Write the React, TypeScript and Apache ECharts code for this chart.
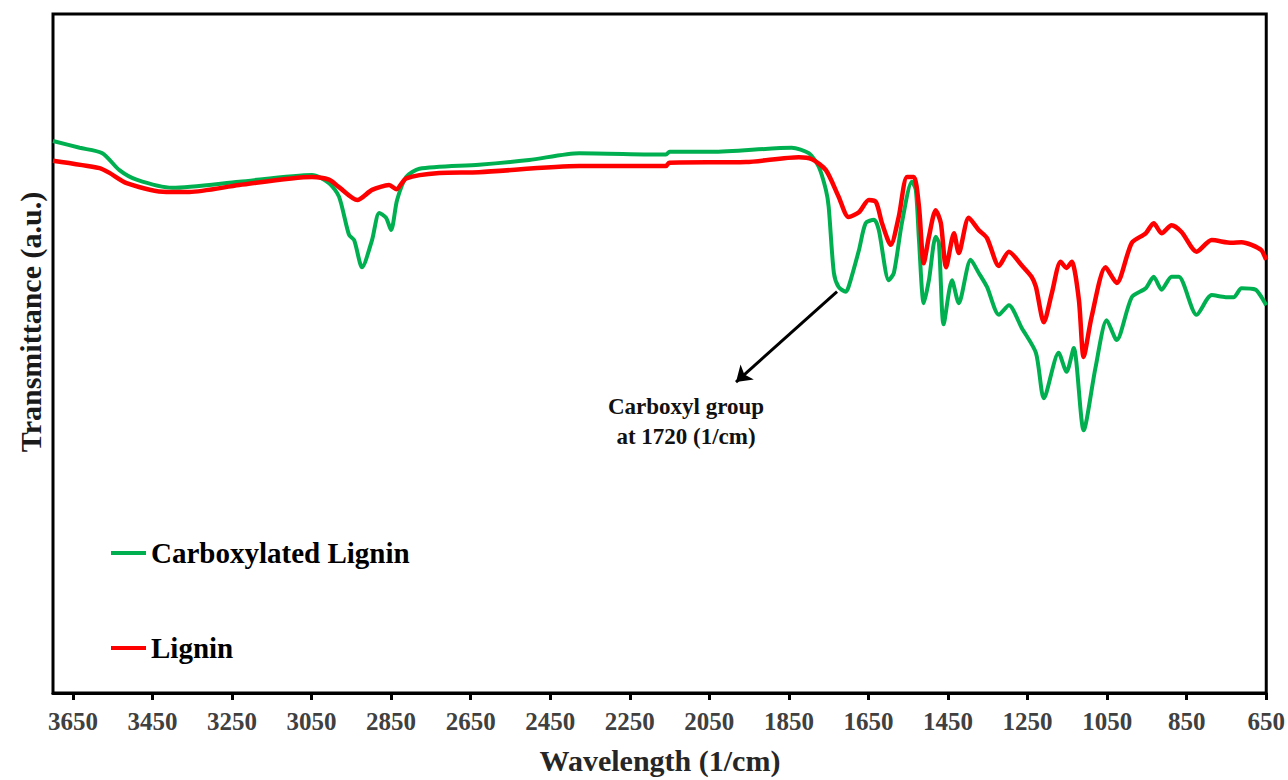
import React, { useEffect, useRef } from 'react';
import * as echarts from 'echarts';

const FONT = "'Liberation Serif', 'Times New Roman', Times, serif";

// x tick labels (wavenumber, 1/cm)
const tickValues = [650, 850, 1050, 1250, 1450, 1650, 1850, 2050, 2250, 2450, 2650, 2850, 3050, 3250, 3450, 3650];

// Carboxylated Lignin (green)
const carboxWave = [3700, 3633, 3576, 3533, 3490, 3400, 3232, 3049, 3006, 2981, 2956, 2943, 2923, 2898, 2880, 2863, 2850, 2835, 2812, 2779, 2629, 2503, 2377, 2159, 2150, 2043, 1843, 1800, 1775, 1757, 1750, 1737, 1725, 1707, 1700, 1674, 1657, 1636, 1624, 1599, 1586, 1566, 1541, 1531, 1523, 1511, 1498, 1481, 1473, 1461, 1440, 1423, 1393, 1373, 1352, 1322, 1297, 1265, 1229, 1209, 1172, 1152, 1134, 1109, 1079, 1051, 1026, 988, 953, 933, 913, 888, 870, 825, 787, 752, 732, 712, 677, 662, 650];
const carboxT = [81.3, 80.3, 79.5, 77.0, 75.6, 74.4, 75.3, 76.3, 75.1, 73.1, 67.5, 66.7, 62.7, 66.7, 70.7, 70.0, 68.2, 72.6, 76.0, 77.2, 77.8, 78.5, 79.5, 79.3, 79.7, 79.7, 80.3, 79.5, 77.5, 74.1, 71.6, 61.9, 59.8, 59.1, 59.8, 65.2, 69.2, 69.7, 68.2, 60.8, 61.9, 69.2, 75.3, 74.1, 66.7, 57.4, 60.8, 67.2, 66.3, 54.3, 60.8, 57.4, 63.8, 61.9, 59.8, 55.7, 57.1, 53.8, 50.1, 43.4, 50.1, 47.3, 50.8, 38.7, 48.0, 54.9, 52.0, 58.3, 59.6, 61.3, 59.4, 61.3, 61.3, 55.7, 58.6, 58.3, 58.3, 59.6, 59.4, 58.3, 57.1];

// Lignin (red)
const ligninWave = [3700, 3583, 3558, 3515, 3415, 3357, 3232, 3049, 3006, 2981, 2935, 2898, 2855, 2837, 2812, 2729, 2629, 2377, 2159, 2151, 1958, 1825, 1792, 1757, 1725, 1700, 1674, 1649, 1631, 1616, 1594, 1574, 1553, 1536, 1523, 1511, 1498, 1481, 1468, 1455, 1435, 1423, 1398, 1373, 1352, 1322, 1297, 1265, 1240, 1229, 1209, 1189, 1167, 1152, 1139, 1121, 1109, 1089, 1054, 1026, 988, 953, 933, 913, 888, 863, 825, 787, 737, 712, 687, 662, 650];
const ligninT = [78.4, 77.3, 76.6, 75.1, 73.8, 73.8, 74.8, 76.0, 75.6, 74.5, 72.6, 74.1, 74.8, 74.2, 75.8, 76.6, 76.7, 77.6, 77.6, 78.1, 78.2, 78.9, 78.6, 77.0, 73.1, 70.1, 70.8, 72.6, 72.3, 69.2, 66.0, 70.1, 76.0, 76.0, 71.6, 63.3, 67.2, 71.1, 69.2, 62.7, 67.7, 64.8, 70.0, 68.2, 67.0, 62.9, 65.0, 63.0, 61.3, 59.8, 54.6, 58.9, 63.5, 62.6, 63.5, 57.9, 49.5, 55.4, 62.7, 60.4, 66.3, 67.7, 69.2, 67.7, 68.9, 67.9, 65.0, 66.7, 66.3, 66.4, 66.0, 65.2, 63.8];

// annotation arrow (data space): from the 1720 band towards the label
const arrowFrom = [1729, 59.1];
const arrowTo = [1983, 45.8];

const seriesNames = ['Carboxylated Lignin', 'Lignin'];
const seriesColors = ['#00B050', '#FF0000'];

function zip(xs: number[], ys: number[]) {
  return xs.map((x, i) => [x, ys[i]]);
}

export default function App() {
  const ref = useRef<HTMLDivElement>(null);
  useEffect(() => {
    if (!ref.current) return;
    const chart = echarts.init(ref.current, null, { renderer: 'svg' });
    chart.setOption({
      animation: false,
      backgroundColor: '#ffffff',
      grid: {
        left: 53,
        right: 20,
        top: 14,
        bottom: 87,
        show: true,
        borderColor: '#000',
        borderWidth: 3,
        backgroundColor: 'transparent',
      },
      xAxis: {
        type: 'value',
        min: 650,
        max: 3700,
        inverse: true,
        axisLine: { show: true, onZero: false, lineStyle: { color: '#000', width: 3 } },
        axisTick: { show: true, customValues: tickValues, length: 7, lineStyle: { color: '#000', width: 3 } },
        axisLabel: {
          customValues: tickValues,
          formatter: (v: number) => String(v),
          fontFamily: FONT,
          fontWeight: 'bold',
          fontSize: 25,
          color: '#404040',
          margin: 16,
        },
        splitLine: { show: false },
      },
      yAxis: {
        type: 'value',
        min: 0,
        max: 100,
        axisLine: { show: false },
        axisTick: { show: false },
        axisLabel: { show: false },
        splitLine: { show: false },
      },
      legend: {
        orient: 'vertical',
        left: 111,
        top: 538,
        padding: 0,
        itemWidth: 35,
        itemHeight: 4,
        itemGap: 65,
        icon: 'rect',
        data: seriesNames,
        textStyle: { fontFamily: FONT, fontWeight: 'bold', fontSize: 29, color: '#000', lineHeight: 30 },
      },
      series: [
        {
          name: seriesNames[0],
          type: 'line',
          data: zip(carboxWave, carboxT),
          color: seriesColors[0],
          symbol: 'none',
          showSymbol: false,
          smooth: 0.25,
          lineStyle: { color: seriesColors[0], width: 4 },
          z: 2,
          markLine: {
            silent: true,
            symbol: ['none', 'arrow'],
            symbolSize: 15,
            label: { show: false },
            lineStyle: { color: '#000', width: 3, type: 'solid' },
            data: [[{ coord: arrowFrom }, { coord: arrowTo }]],
          },
        },
        {
          name: seriesNames[1],
          type: 'line',
          data: zip(ligninWave, ligninT),
          color: seriesColors[1],
          symbol: 'none',
          showSymbol: false,
          smooth: 0.25,
          lineStyle: { color: seriesColors[1], width: 4.5 },
          z: 3,
        },
      ],
      graphic: [
        {
          type: 'text',
          x: 30,
          y: 322,
          rotation: Math.PI / 2,
          style: {
            text: 'Transmittance (a.u.)',
            fontFamily: FONT,
            fontWeight: 'bold',
            fontSize: 30,
            fill: '#1a1a1a',
            align: 'center',
            verticalAlign: 'middle',
          },
        },
        {
          type: 'text',
          x: 660,
          y: 760,
          style: {
            text: 'Wavelength (1/cm)',
            fontFamily: FONT,
            fontWeight: 'bold',
            fontSize: 30,
            fill: '#262626',
            align: 'center',
            verticalAlign: 'middle',
          },
        },
        {
          type: 'text',
          x: 686,
          y: 421,
          style: {
            text: 'Carboxyl group\nat 1720 (1/cm)',
            fontFamily: FONT,
            fontWeight: 'bold',
            fontSize: 23,
            lineHeight: 30,
            fill: '#111',
            align: 'center',
            verticalAlign: 'middle',
          },
        },
      ],
    });
    return () => chart.dispose();
  }, []);
  return (
    <div
      ref={ref}
      style={{ position: 'fixed', left: 0, top: 0, width: 1288, height: 780, background: '#fff' }}
    />
  );
}
